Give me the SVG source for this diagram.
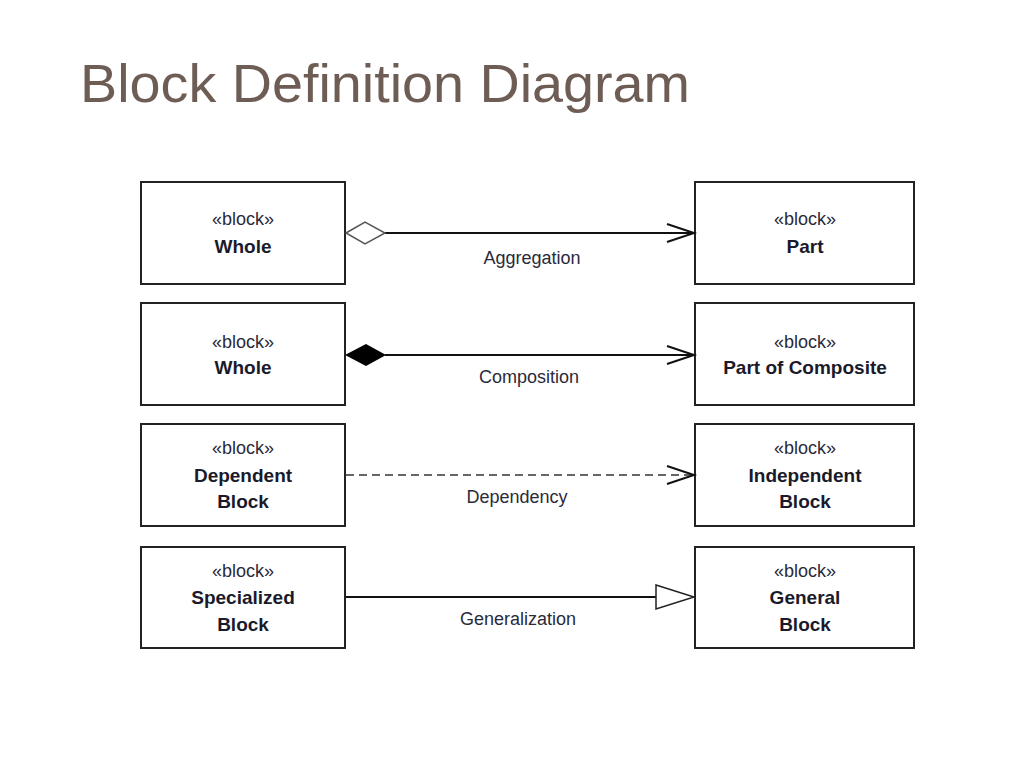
<svg xmlns="http://www.w3.org/2000/svg" width="1024" height="768" viewBox="0 0 1024 768">
<style>
.box{fill:#fff;stroke:#222;stroke-width:2}
.st{font-family:"Liberation Sans",Arial,sans-serif;font-size:18px;fill:#2a2a3a;text-anchor:middle}
.nm{font-family:"Liberation Sans",Arial,sans-serif;font-size:19px;font-weight:bold;fill:#1a1a2a;text-anchor:middle}
.lb{font-family:"Liberation Sans",Arial,sans-serif;font-size:18px;fill:#2a2a3a;text-anchor:middle}
.ln{stroke:#111;stroke-width:2;fill:none}
.title{font-family:"Liberation Sans",Arial,sans-serif;font-size:54px;fill:#6e5d55}
</style>
<rect width="1024" height="768" fill="#fff"/>
<text class="title" x="80" y="102" textLength="610" lengthAdjust="spacingAndGlyphs">Block Definition Diagram</text>

<g id="whole1"><rect class="box" x="141" y="182" width="204" height="102"/><text class="st" x="243" y="225">«block»</text><text class="nm" x="243" y="253">Whole</text></g>
<g id="part"><rect class="box" x="695" y="182" width="219" height="102"/><text class="st" x="805" y="225">«block»</text><text class="nm" x="805" y="253">Part</text></g>
<g id="whole2"><rect class="box" x="141" y="303" width="204" height="102"/><text class="st" x="243" y="348">«block»</text><text class="nm" x="243" y="374">Whole</text></g>
<g id="partcomp"><rect class="box" x="695" y="303" width="219" height="102"/><text class="st" x="805" y="348">«block»</text><text class="nm" x="805" y="374">Part of Composite</text></g>
<g id="dependent"><rect class="box" x="141" y="424" width="204" height="102"/><text class="st" x="243" y="454">«block»</text><text class="nm" x="243" y="482">Dependent</text><text class="nm" x="243" y="508">Block</text></g>
<g id="independent"><rect class="box" x="695" y="424" width="219" height="102"/><text class="st" x="805" y="454">«block»</text><text class="nm" x="805" y="482">Independent</text><text class="nm" x="805" y="508">Block</text></g>
<g id="specialized"><rect class="box" x="141" y="547" width="204" height="101"/><text class="st" x="243" y="577">«block»</text><text class="nm" x="243" y="604">Specialized</text><text class="nm" x="243" y="631">Block</text></g>
<g id="general"><rect class="box" x="695" y="547" width="219" height="101"/><text class="st" x="805" y="577">«block»</text><text class="nm" x="805" y="604">General</text><text class="nm" x="805" y="631">Block</text></g>

<g id="connectors">
<line class="ln" x1="385" y1="233" x2="694" y2="233"/>
<path d="M346 233 L365 222 L385 233 L365 244 Z" fill="#fff" stroke="#555" stroke-width="1.5"/>
<path class="ln" d="M667 224 L694 233 L667 242"/>
<text class="lb" x="532" y="264">Aggregation</text>

<line class="ln" x1="385" y1="355" x2="694" y2="355"/>
<path d="M345 355 L366 344 L386 355 L366 366 Z" fill="#000"/>
<path class="ln" d="M667 346 L694 355 L667 364"/>
<text class="lb" x="529" y="383">Composition</text>

<line x1="346" y1="475" x2="694" y2="475" stroke="#666" stroke-width="2" stroke-dasharray="8,5"/>
<path class="ln" d="M667 466 L694 475 L667 484" stroke="#444"/>
<text class="lb" x="517" y="503">Dependency</text>

<line class="ln" x1="346" y1="597" x2="656" y2="597"/>
<path d="M656 585 L694 597 L656 609 Z" fill="#fff" stroke="#222" stroke-width="1.5"/>
<text class="lb" x="518" y="625">Generalization</text>
</g>
</svg>
